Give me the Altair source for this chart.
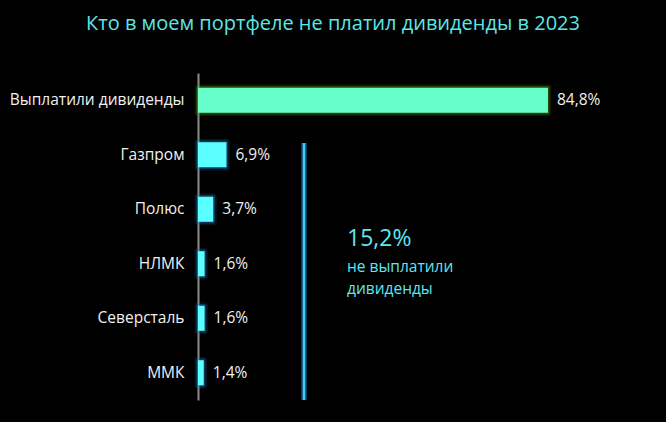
import altair as alt
import pandas as pd

categories = ["Выплатили дивиденды", "Газпром", "Полюс", "НЛМК", "Северсталь", "ММК"]
values = [84.8, 6.9, 3.7, 1.6, 1.6, 1.4]
labels = ["84,8%", "6,9%", "3,7%", "1,6%", "1,6%", "1,4%"]
groups = ["paid", "unpaid", "unpaid", "unpaid", "unpaid", "unpaid"]

df = pd.DataFrame({"cat": categories, "val": values, "lbl": labels, "grp": groups})

W, H = 450, 327
FONT = "Open Sans"

x = alt.X("val:Q", scale=alt.Scale(domain=[0, 109.03]), axis=None)
y = alt.Y("cat:N", sort=categories, scale=alt.Scale(paddingInner=0.54, paddingOuter=0.27),
          axis=alt.Axis(title=None, ticks=False, grid=False, domain=True, domainColor="#8c8c8c",
                        domainWidth=2, labelColor="#f0f0f0", labelFont=FONT, labelFontSize=15.5,
                        labelPadding=14))

color = alt.Color("grp:N", scale=alt.Scale(domain=["paid", "unpaid"], range=["#66ffcc", "#5cffff"]), legend=None)
glow = alt.Color("grp:N", scale=alt.Scale(domain=["paid", "unpaid"], range=["#5a9a10", "#1d7fc0"]), legend=None)

base = alt.Chart(df)

bars_glow1 = base.mark_bar(strokeWidth=7, strokeOpacity=0.15, fillOpacity=0, strokeJoin="round").encode(
    x=x, y=y, stroke=glow)
bars_glow2 = base.mark_bar(strokeWidth=3.5, strokeOpacity=0.35, fillOpacity=0, strokeJoin="round").encode(
    x=x, y=y, stroke=glow)
bars = base.mark_bar().encode(x=x, y=y, color=color)
text = base.mark_text(align="left", dx=9, color="#f0f0f0", font=FONT, fontSize=15.5).encode(
    x=x, y=y, text="lbl:N")

rx = 106
rule_glow1 = base.mark_rule(color="#1d7fc0", strokeWidth=6, opacity=0.1).encode(
    x=alt.value(rx), y=alt.value(70), y2=alt.value(327))
rule_glow2 = base.mark_rule(color="#1d8fd0", strokeWidth=3, opacity=0.2).encode(
    x=alt.value(rx), y=alt.value(70), y2=alt.value(327))
rule = base.mark_rule(color="#40d4f4", strokeWidth=1).encode(
    x=alt.value(rx), y=alt.value(70), y2=alt.value(327))

ann = alt.Chart(pd.DataFrame({"t": ["15,2%"]})).mark_text(
    align="left", baseline="alphabetic", color="#5ce6f0", font=FONT, fontSize=23).encode(
    x=alt.value(149), y=alt.value(173), text="t:N")
ann2 = alt.Chart(pd.DataFrame({"t": ["не выплатили"]})).mark_text(
    align="left", baseline="middle", color="#5ce6f0", font=FONT, fontSize=15.5).encode(
    x=alt.value(149), y=alt.value(194), text="t:N")
ann3 = alt.Chart(pd.DataFrame({"t": ["дивиденды"]})).mark_text(
    align="left", baseline="middle", color="#5ce6f0", font=FONT, fontSize=15.5).encode(
    x=alt.value(149), y=alt.value(216), text="t:N")

title = alt.Chart(pd.DataFrame({"t": ["Кто в моем портфеле не платил дивиденды в 2023"]})).mark_text(
    align="center", baseline="middle", color="#5ce6e6", font=FONT, fontSize=20).encode(
    x=alt.value(333 - 198), y=alt.value(23.5 - 73), text="t:N")

chart = alt.layer(bars_glow1, bars_glow2, bars, text, rule_glow1, rule_glow2, rule,
                  ann, ann2, ann3, title).properties(
    width=W, height=H,
    background="#000000",
    padding={"left": 190, "top": 65, "right": 10, "bottom": 10},
    autosize=alt.AutoSizeParams(type="none"),
).configure_view(stroke=None)

TEMPLATE_SRC = """<!DOCTYPE html>
<html>
<head>
  <meta charset="utf-8">
  <style>html, body { background: #000000; }</style>
  <script type="text/javascript" src="{{ base_url }}/vega@{{ vega_version }}"></script>
  <script type="text/javascript" src="{{ base_url }}/vega-lite@{{ vegalite_version }}"></script>
  <script type="text/javascript" src="{{ base_url }}/vega-embed@{{ vegaembed_version }}"></script>
</head>
<body>
  <div id="{{ output_div }}"></div>
  <script type="text/javascript">
    (function(vegaEmbed) {
      var spec = {{ spec }};
      var embedOpt = {{ embed_options }};
      function showError(el, error){
        el.innerHTML = ('<div style="color:red;"><p>JavaScript Error: ' + error.message + '</p></div>');
        throw error;
      }
      const el = document.getElementById('{{ output_div }}');
      vegaEmbed("#{{ output_div }}", spec, embedOpt).catch(error => showError(el, error));
    })(vegaEmbed);
  </script>
</body>
</html>
"""

try:
    import jinja2
    tpl = jinja2.Template(TEMPLATE_SRC)
    chart.save("out.html", embed_options={"renderer": "svg", "actions": False}, template=tpl)
except Exception:
    chart.save("out.html", embed_options={"renderer": "svg", "actions": False})
